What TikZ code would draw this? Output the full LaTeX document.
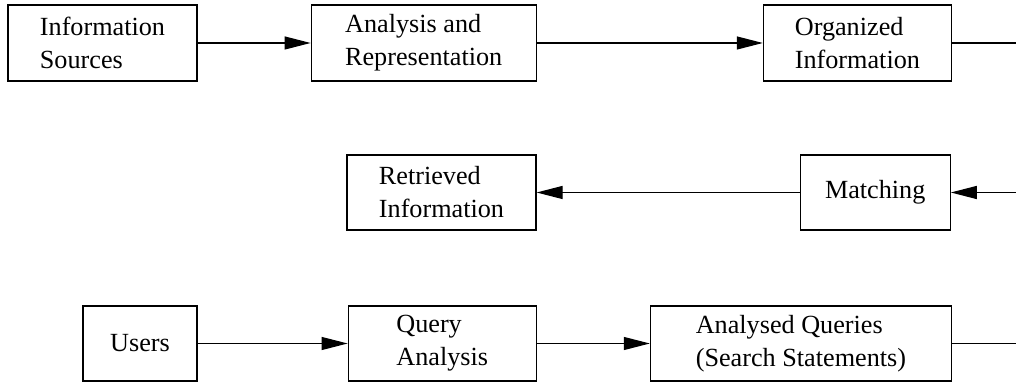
\documentclass[tikz,border=0pt]{standalone}
\usepackage{fontspec}
\setmainfont{Liberation Serif}
\usetikzlibrary{positioning,arrows.meta}

\begin{document}
\begin{tikzpicture}[
    font=\fontsize{13.1pt}{16.5pt}\selectfont,
    box/.style={
        draw,
        line width=0.6pt,
        minimum height=37.5pt,
        align=left
    },
    arrow/.style={-{Triangle[length=13pt,width=6.5pt]}, line width=0.6pt},
    wire/.style={line width=0.6pt}
]
\useasboundingbox (0,0) rectangle (508pt,-191.5pt);
\coordinate (rim) at (508pt,0);

% ============================================================
% INDEXING ROW
% ============================================================
\node[box, minimum width=94.5pt, minimum height=38pt] (src) at (51.25pt,-21.5pt) {Information\\Sources};
\node[box, minimum width=112.5pt, minimum height=38pt, right=56.5pt of src] (anl) {Analysis and\\Representation};
\node[box, minimum width=94pt, minimum height=38pt, right=113pt of anl] (org) {Organized\\Information};

\draw[arrow] (src) -- (anl);
\draw[arrow] (anl) -- (org);
\draw[wire] (org.east) -- (org.east -| rim);

% ============================================================
% MATCHING ROW
% ============================================================
\node[box, minimum width=94.5pt] (ret) at (220.75pt,-96.25pt) {Retrieved\\Information};
\node[box, minimum width=75pt, right=131.5pt of ret] (mat) {Matching};

\draw[arrow] (mat.east -| rim) -- (mat.east);
\draw[arrow] (mat) -- (ret);

% ============================================================
% QUERY ROW
% ============================================================
\node[box, minimum width=57pt] (usr) at (70pt,-171.75pt) {Users};
\node[box, minimum width=94pt, right=75pt of usr] (qry) {Query\\Analysis};
\node[box, minimum width=150.5pt, right=56.5pt of qry] (aq) {Analysed Queries\\(Search Statements)};

\draw[arrow] (usr) -- (qry);
\draw[arrow] (qry) -- (aq);
\draw[wire] (aq.east) -- (aq.east -| rim);

\end{tikzpicture}
\end{document}
